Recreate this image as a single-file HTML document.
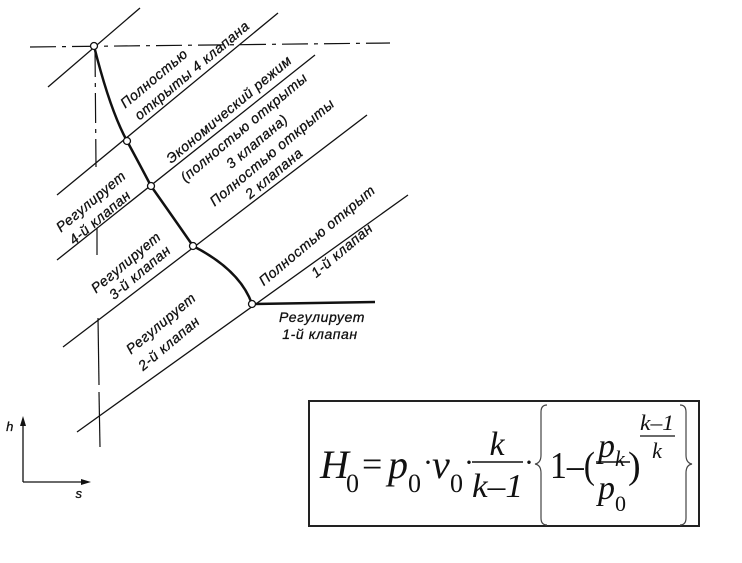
<!DOCTYPE html>
<html><head><meta charset="utf-8"><style>
html,body{margin:0;padding:0;background:#fff;width:742px;height:563px;overflow:hidden}
svg{display:block}
.t{font-family:"Liberation Sans",sans-serif;font-style:italic;font-size:14px;fill:#111;stroke:#111;stroke-width:0.3;text-anchor:middle;letter-spacing:0.6px}
.f{font-family:"Liberation Serif",serif;font-style:italic;fill:#111}
.r{font-family:"Liberation Serif",serif;fill:#111}
</style></head><body>
<svg width="742" height="563" viewBox="0 0 742 563">
<g stroke="#111" fill="none" stroke-width="1.3">
<line x1="48" y1="87" x2="140" y2="8"/>
<line x1="57" y1="195" x2="278" y2="13"/>
<line x1="57" y1="260" x2="315" y2="55"/>
<line x1="63" y1="347" x2="367" y2="115"/>
<line x1="77" y1="432" x2="408" y2="195"/>
<line x1="30" y1="47" x2="390" y2="43" stroke-dasharray="26,6,4,6" stroke-width="1.2"/>
<g stroke-width="1.2">
<line x1="95" y1="47" x2="96" y2="167" stroke-dasharray="30,6,4,6"/>
<line x1="97" y1="228" x2="97" y2="255"/>
<line x1="98" y1="318" x2="99" y2="385"/>
<line x1="99" y1="392" x2="100" y2="447"/>
</g>
<path d="M94,46 Q110,110 127,141 Q140,165 151,186 Q175,220 193,246 Q240,270 252,304" stroke-width="2.5"/>
<line x1="252" y1="304" x2="375" y2="302" stroke-width="2.5"/>
<line x1="23" y1="482" x2="23" y2="422"/>
<line x1="23" y1="482" x2="85" y2="482"/>
</g>
<polygon points="23,416 20,426 26,426" fill="#111"/>
<polygon points="91,482 81,479 81,485" fill="#111"/>
<g fill="#fff" stroke="#111" stroke-width="1.3">
<circle cx="94" cy="46" r="3.5"/><circle cx="127" cy="141" r="3.5"/><circle cx="151" cy="186" r="3.5"/><circle cx="193" cy="246" r="3.5"/><circle cx="252" cy="304" r="3.5"/>
</g>
<text x="10" y="431" class="t" style="font-size:13px">h</text>
<text x="79" y="498" class="t" style="font-size:13px">s</text>
<g class="t">
<text transform="translate(157,82) rotate(-40)">Полностью</text>
<text transform="translate(195,74) rotate(-40)">открыты 4 клапана</text>
<text transform="translate(232,113) rotate(-40)">Экономический режим</text>
<text transform="translate(247,131) rotate(-40)">(полностью открыты</text>
<text transform="translate(260,145) rotate(-40)">3 клапана)</text>
<text transform="translate(275,156) rotate(-40)">Полностью открыты</text>
<text transform="translate(277,177) rotate(-40)">2 клапана</text>
<text transform="translate(94,205) rotate(-40)">Регулирует</text>
<text transform="translate(103,221) rotate(-40)">4-й клапан</text>
<text transform="translate(129,266) rotate(-40)">Регулирует</text>
<text transform="translate(143,276) rotate(-40)">3-й клапан</text>
<text transform="translate(164,327) rotate(-40)">Регулирует</text>
<text transform="translate(172,347) rotate(-40)">2-й клапан</text>
<text transform="translate(320,239) rotate(-40)">Полностью открыт</text>
<text transform="translate(345,254) rotate(-40)">1-й клапан</text>
<text x="322" y="322">Регулирует</text>
<text x="320" y="339">1-й клапан</text>
</g>
<rect x="309" y="401" width="390" height="125" fill="none" stroke="#222" stroke-width="2"/>
<text x="320" y="478" class="f" font-size="40">H</text>
<text x="346" y="492" class="r" font-size="26">0</text>
<text x="362" y="476" class="r" font-size="36">=</text>
<text x="388" y="478" class="f" font-size="40">p</text>
<text x="408" y="492" class="r" font-size="26">0</text>
<text x="423" y="472" class="r" font-size="30">·</text>
<text x="432" y="478" class="f" font-size="40">v</text>
<text x="450" y="492" class="r" font-size="26">0</text>
<text x="464" y="472" class="r" font-size="30">·</text>
<text x="497" y="455" class="f" font-size="34" text-anchor="middle">k</text>
<line x1="472" y1="462" x2="523" y2="462" stroke="#111" stroke-width="1.5"/>
<text x="472" y="497" class="f" font-size="34" textLength="51" lengthAdjust="spacingAndGlyphs">k–1</text>
<text x="524" y="472" class="r" font-size="30">·</text>
<path d="M547,405 Q541,405 541,412 L541,455 Q541,463 535,464 Q541,465 541,473 L541,518 Q541,525 547,525" fill="none" stroke="#444" stroke-width="1.2"/>
<text x="550" y="478" class="r" font-size="38" textLength="45" lengthAdjust="spacingAndGlyphs">1–(</text>
<text x="598" y="457" class="f" font-size="34">p</text>
<text x="615" y="466" class="f" font-size="22">k</text>
<line x1="596" y1="462" x2="630" y2="462" stroke="#111" stroke-width="1.5"/>
<text x="598" y="499" class="f" font-size="34">p</text>
<text x="615" y="511" class="r" font-size="22">0</text>
<text x="628" y="478" class="r" font-size="38">)</text>
<text x="657" y="430" class="f" font-size="22" text-anchor="middle" textLength="34" lengthAdjust="spacingAndGlyphs">k–1</text>
<line x1="640" y1="436" x2="675" y2="436" stroke="#111" stroke-width="1.2"/>
<text x="657" y="458" class="f" font-size="22" text-anchor="middle">k</text>
<path d="M680,405 Q686,405 686,412 L686,455 Q686,463 692,464 Q686,465 686,473 L686,518 Q686,525 680,525" fill="none" stroke="#444" stroke-width="1.2"/>
</svg>
</body></html>
